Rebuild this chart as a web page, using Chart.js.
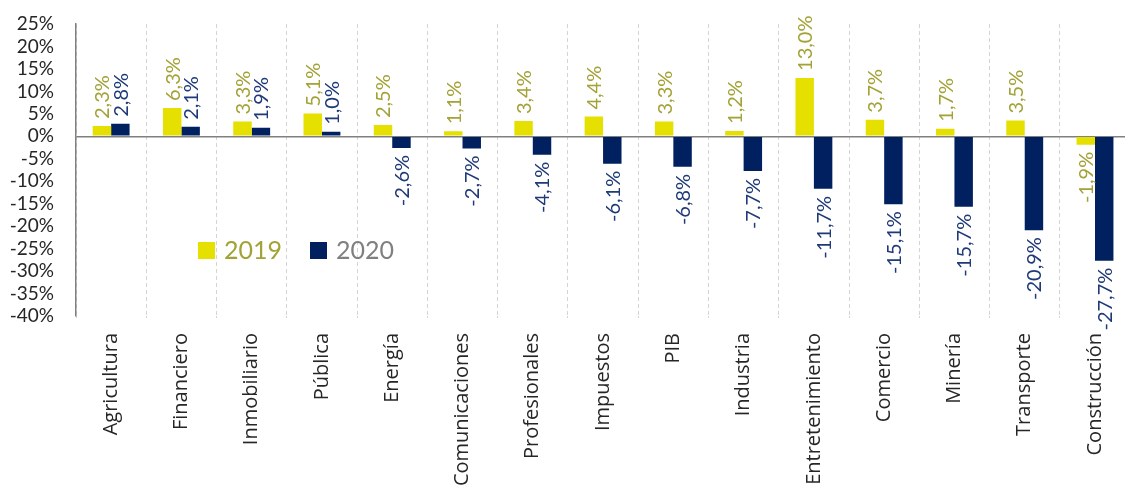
<!DOCTYPE html>
<html>
<head>
<meta charset="utf-8">
<script src="https://cdn.jsdelivr.net/npm/chart.js@4/dist/chart.umd.min.js"></script>
<style>
  html, body { margin: 0; padding: 0; background: #ffffff; overflow: hidden; }
  #wrap { width: 1134px; height: 495px; }
</style>
</head>
<body>
<div id="wrap"><canvas id="chart" width="1134" height="495"></canvas></div>
<script>
const categories = ['Agricultura', 'Financiero', 'Inmobiliario', 'Pública', 'Energía', 'Comunicaciones',
  'Profesionales', 'Impuestos', 'PIB', 'Industria', 'Entretenimiento', 'Comercio', 'Minería',
  'Transporte', 'Construcción'];
const values2019 = [2.3, 6.3, 3.3, 5.1, 2.5, 1.1, 3.4, 4.4, 3.3, 1.2, 13.0, 3.7, 1.7, 3.5, -1.9];
const values2020 = [2.8, 2.1, 1.9, 1.0, -2.6, -2.7, -4.1, -6.1, -6.8, -7.7, -11.7, -15.1, -15.7, -20.9, -27.7];
const seriesNames = ['2019', '2020'];

const barColors = ['#e5e000', '#002060'];
const valueLabelColors = ['#a3a236', '#1f3a78'];
const legendTextColors = ['#a3a236', '#808080'];

const fmt = v => v.toFixed(1).replace('.', ',') + '%';

// Rotated value labels above positive bars and below negative ones
const valueLabels = {
  id: 'valueLabels',
  afterDatasetsDraw(chart) {
    const ctx = chart.ctx;
    ctx.save();
    ctx.font = '20px Lato';
    ctx.textBaseline = 'middle';
    chart.data.datasets.forEach((ds, di) => {
      const meta = chart.getDatasetMeta(di);
      ctx.fillStyle = valueLabelColors[di];
      meta.data.forEach((bar, i) => {
        const v = ds.data[i];
        ctx.save();
        if (v >= 0) {
          ctx.translate(bar.x, bar.y - 7);
          ctx.rotate(-Math.PI / 2);
          ctx.textAlign = 'left';
        } else {
          ctx.translate(bar.x, bar.y + 7);
          ctx.rotate(-Math.PI / 2);
          ctx.textAlign = 'right';
        }
        ctx.fillText(fmt(v), 0, 1);
        ctx.restore();
      });
    });
    ctx.restore();
  }
};

// Legend drawn inside the plot area
const innerLegend = {
  id: 'innerLegend',
  afterDraw(chart) {
    const ctx = chart.ctx;
    const entries = [{ x: 198 }, { x: 310 }];
    ctx.save();
    ctx.font = '25px Lato';
    ctx.textBaseline = 'middle';
    ctx.textAlign = 'left';
    entries.forEach((e, i) => {
      ctx.fillStyle = barColors[i];
      ctx.fillRect(e.x, 242, 17, 17);
      ctx.fillStyle = legendTextColors[i];
      ctx.fillText(seriesNames[i], e.x + 26, 251);
    });
    ctx.restore();
  }
};

new Chart(document.getElementById('chart'), {
  type: 'bar',
  data: {
    labels: categories,
    datasets: [
      { label: seriesNames[0], data: values2019, backgroundColor: barColors[0] },
      { label: seriesNames[1], data: values2020, backgroundColor: barColors[1] }
    ]
  },
  options: {
    responsive: false,
    devicePixelRatio: 1,
    animation: false,
    layout: { padding: { top: 24, left: 0, right: 0, bottom: 0 } },
    datasets: { bar: { categoryPercentage: 0.525, barPercentage: 1.0 } },
    plugins: { legend: { display: false }, tooltip: { enabled: false } },
    scales: {
      x: {
        afterFit(scale) { scale.height = 179; },
        grid: { color: '#d4d4d4', lineWidth: 1, tickLength: 2, drawOnChartArea: true },
        border: { display: false, dash: [4, 3] },
        ticks: {
          autoSkip: false, minRotation: 90, maxRotation: 90, padding: 15,
          color: '#262626', font: { family: 'Open Sans', size: 20 }
        }
      },
      y: {
        min: -40, max: 25,
        afterFit(scale) {
          scale.width = 76;
          scale.paddingTop = 10;
          scale.paddingBottom = 10;
        },
        grid: {
          drawTicks: false,
          lineWidth: 1.5,
          color: c => (c.tick && c.tick.value === 0 ? '#808080' : 'rgba(0,0,0,0)')
        },
        border: { display: true, color: '#808080', width: 1.5 },
        ticks: {
          stepSize: 5, autoSkip: false, maxTicksLimit: 20, padding: 22, color: '#262626',
          font: { family: 'Lato', size: 19, lineHeight: 1 },
          callback: v => v + '%'
        }
      }
    }
  },
  plugins: [valueLabels, innerLegend]
});
</script>
</body>
</html>
